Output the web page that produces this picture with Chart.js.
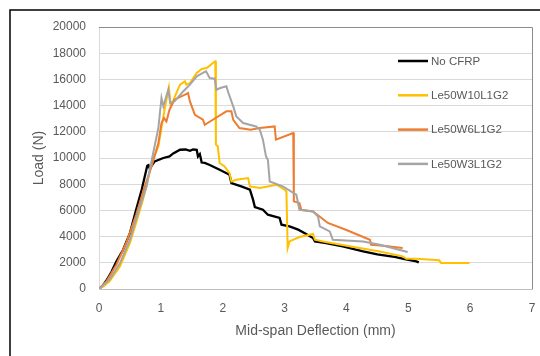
<!DOCTYPE html>
<html>
<head>
<meta charset="utf-8">
<script src="https://cdn.jsdelivr.net/npm/chart.js@4.4.1/dist/chart.umd.min.js"></script>
<style>
  html, body { margin: 0; padding: 0; background: #fff; overflow: hidden; }
  canvas { display: block; }
</style>
</head>
<body>
<canvas id="deflectionChart" width="540" height="356"></canvas>
<script>
// Load vs mid-span deflection
const seriesNames = ['No CFRP', 'Le50W10L1G2', 'Le50W6L1G2', 'Le50W3L1G2'];
const seriesColors = ['#000000', '#FFC000', '#ED7D31', '#A5A5A5'];

const noCfrpX = [0, 0.06, 0.12, 0.2, 0.28, 0.39, 0.5, 0.6, 0.69, 0.78, 0.8, 0.82, 0.9, 1.04, 1.14, 1.2, 1.31, 1.4, 1.47, 1.52,
  1.58, 1.6, 1.63, 1.66, 1.71, 1.8, 1.95, 2.11, 2.14, 2.3, 2.44, 2.49, 2.52, 2.65, 2.73, 2.92, 2.95, 3.08, 3.22, 3.32,
  3.46, 3.49, 3.67, 3.94, 4.27, 4.5, 4.8, 4.94, 5.13, 5.17];
const noCfrpY = [0, 250, 650, 1300, 2100, 3000, 4270, 6050, 7580, 9400, 9450, 9200, 9740, 10000, 10120, 10350, 10630, 10650, 10550, 10650,
  10630, 10120, 10300, 9650, 9620, 9450, 9100, 8720, 8090, 7830, 7580, 6820, 6260, 6050, 5670, 5420, 4910, 4780, 4530, 4270,
  3890, 3630, 3510, 3250, 2870, 2650, 2440, 2290, 2110, 2030];

const w10X = [0, 0.07, 0.17, 0.34, 0.5, 0.6, 0.71, 0.79, 0.85, 0.96, 1.06, 1.13, 1.16, 1.25, 1.31, 1.39, 1.41, 1.47, 1.58, 1.66,
  1.74, 1.79, 1.84, 1.88, 1.89, 1.89, 1.92, 1.95, 2.03, 2.11, 2.14, 2.22, 2.41, 2.44, 2.6, 2.87, 3.0, 3.03, 3.05, 3.08,
  3.24, 3.46, 3.49, 3.62, 4.0, 4.54, 4.91, 4.97, 5.13, 5.5, 5.53, 5.99];
const w10Y = [0, 200, 580, 1730, 3510, 5040, 6820, 8340, 9620, 10890, 13690, 15390, 13940, 14960, 15600, 15850, 15600, 15720, 16490, 16790,
  16870, 17050, 17250, 17380, 17250, 11020, 10890, 9620, 9360, 8850, 8210, 8340, 8470, 7830, 7710, 7960, 7580, 7450, 3130, 3630,
  3970, 4200, 3760, 3630, 3300, 2870, 2490, 2300, 2300, 2200, 1990, 1990];

const w6X = [0, 0.12, 0.28, 0.44, 0.6, 0.74, 0.85, 0.96, 1.01, 1.05, 1.09, 1.14, 1.22, 1.39, 1.44, 1.47, 1.55, 1.68, 1.71, 1.84,
  2.06, 2.14, 2.17, 2.27, 2.45, 2.6, 2.84, 2.86, 3.14, 3.15, 3.24, 3.27, 3.46, 3.7, 4.0, 4.38, 4.4, 4.6, 4.91];
const w6Y = [0, 580, 1850, 3510, 5670, 7830, 9360, 11150, 12670, 13050, 12790, 13690, 14450, 14830, 14960, 14320, 13300, 12920, 12540, 12920,
  13560, 13560, 12920, 12290, 12160, 12290, 12410, 11400, 11910, 6690, 6560, 6050, 5920, 5040, 4500, 3760, 3380, 3300, 3130];

const w3X = [0, 0.17, 0.34, 0.5, 0.63, 0.77, 0.82, 0.96, 1.01, 1.04, 1.12, 1.15, 1.22, 1.36, 1.47, 1.58, 1.68, 1.73, 1.79, 1.87,
  1.9, 1.96, 2.06, 2.09, 2.17, 2.22, 2.33, 2.54, 2.6, 2.65, 2.7, 2.73, 2.76, 2.97, 3.19, 3.24, 3.46, 3.54, 3.57, 3.73,
  3.78, 4.27, 4.54, 4.99];
const w3Y = [0, 710, 1980, 3760, 5800, 7830, 9100, 12300, 14580, 13940, 15210, 14200, 14320, 15080, 15600, 16240, 16490, 16615, 16100, 16050,
  15210, 15340, 15470, 15000, 13940, 13180, 12670, 12410, 12160, 11400, 10120, 9870, 8210, 7830, 7200, 6050, 5920, 5540, 4780, 4400,
  3760, 3630, 3380, 2820];

const xTicks = [0, 1, 2, 3, 4, 5, 6, 7];
const yTicks = [0, 2000, 4000, 6000, 8000, 10000, 12000, 14000, 16000, 18000, 20000];

const seriesX = [noCfrpX, w10X, w6X, w3X];
const seriesY = [noCfrpY, w10Y, w6Y, w3Y];

const FONT = '"Liberation Sans", Arial, sans-serif';
const TEXT = '#595959';
Chart.defaults.font.family = FONT;

// zip x/y arrays into points
function toPoints(xs, ys) {
  return xs.map((x, i) => ({ x: x, y: ys[i] }));
}

// outer frame, plot border and the in-plot legend
const framePlugin = {
  id: 'frame',
  afterDraw(chart) {
    const { ctx, chartArea: a } = chart;
    ctx.save();
    ctx.strokeStyle = '#8c8c8c';
    ctx.lineWidth = 1;
    ctx.beginPath();
    ctx.moveTo(a.left, a.top + 0.5);
    ctx.lineTo(a.right + 0.5, a.top + 0.5);
    ctx.lineTo(a.right + 0.5, a.bottom);
    ctx.stroke();

    ctx.strokeStyle = '#000';
    ctx.lineWidth = 1.5;
    ctx.beginPath();
    ctx.moveTo(10, 400);
    ctx.lineTo(10, 10);
    ctx.lineTo(600, 10);
    ctx.stroke();

    ctx.font = '11.5px ' + FONT;
    ctx.textBaseline = 'middle';
    chart.data.datasets.forEach((ds, i) => {
      const y = 61 + i * 34.3;
      ctx.strokeStyle = ds.borderColor;
      ctx.lineWidth = 2.5;
      ctx.beginPath();
      ctx.moveTo(398, y);
      ctx.lineTo(428, y);
      ctx.stroke();
      ctx.fillStyle = TEXT;
      ctx.fillText(ds.label, 431, y + 0.5);
    });
    ctx.restore();
  }
};

const datasets = seriesNames.map((name, i) => ({
  label: name,
  data: toPoints(seriesX[i], seriesY[i]),
  borderColor: seriesColors[i],
  backgroundColor: seriesColors[i],
  borderWidth: i === 0 ? 2.3 : 2,
  pointRadius: 0,
  tension: 0,
  showLine: true,
  fill: false,
  order: seriesNames.length - i
}));

new Chart(document.getElementById('deflectionChart'), {
  type: 'scatter',
  data: { datasets: datasets },
  plugins: [framePlugin],
  options: {
    responsive: false,
    animation: false,
    layout: { padding: { top: 27, right: 8, left: 0, bottom: 0 } },
    plugins: {
      legend: { display: false },
      tooltip: { enabled: false }
    },
    scales: {
      x: {
        type: 'linear',
        min: xTicks[0],
        max: xTicks[xTicks.length - 1],
        afterBuildTicks(scale) { scale.ticks = xTicks.map(v => ({ value: v })); },
        afterFit(scale) {
          scale.height = 67;
          scale.paddingLeft = 0;
          scale.paddingRight = 0;
        },
        ticks: { color: TEXT, font: { size: 12 }, padding: 12 },
        grid: { display: false, drawTicks: false },
        border: { display: true, color: '#bfbfbf' },
        title: {
          display: true,
          text: 'Mid-span Deflection (mm)',
          color: TEXT,
          font: { size: 14 },
          padding: { top: 0, bottom: 16 }
        }
      },
      y: {
        min: yTicks[0],
        max: yTicks[yTicks.length - 1],
        afterBuildTicks(scale) { scale.ticks = yTicks.map(v => ({ value: v })); },
        afterFit(scale) { scale.width = 99; },
        ticks: { color: TEXT, font: { size: 12 }, padding: 13, callback: v => String(v) },
        grid: { color: '#d9d9d9', drawTicks: false },
        border: { color: '#d9d9d9' },
        title: {
          display: true,
          text: 'Load (N)',
          color: TEXT,
          font: { size: 14 },
          padding: { top: 31, bottom: 0 }
        }
      }
    }
  }
});
</script>
</body>
</html>
